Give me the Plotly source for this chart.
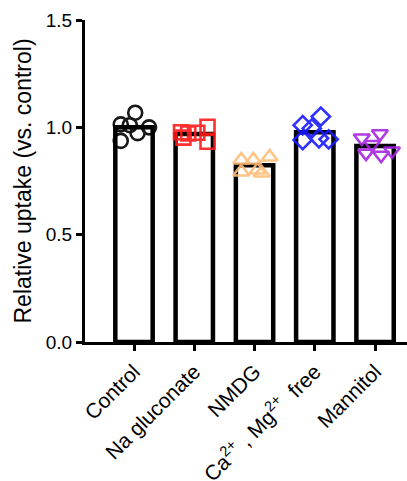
import plotly.graph_objects as go

categories = ["Control", "Na gluconate", "NMDG",
              "Ca<sup>2+</sup> , Mg<sup>2+</sup>  free", "Mannitol"]
bar_means = [1.00, 0.969, 0.823, 0.977, 0.913]
control = [1.068, 1.014, 1.010, 0.973, 1.000, 0.937]
na_gluconate = [0.977, 0.972, 0.975, 1.003, 0.933, 0.952]
nmdg = [0.848, 0.848, 0.862, 0.792, 0.801, 0.787]
ca_mg_free = [1.050, 1.010, 0.995, 0.941, 0.949, 0.944]
mannitol = [0.950, 0.970, 0.920, 0.880, 0.870, 0.890]
groups = [control, na_gluconate, nmdg, ca_mg_free, mannitol]
jitter = [[0.02, -0.22, -0.07, 0.06, 0.25, -0.22],
          [-0.22, -0.10, 0.05, 0.22, 0.22, -0.18],
          [-0.22, -0.02, 0.25, -0.22, 0.05, 0.12],
          [0.10, -0.20, -0.05, -0.20, 0.07, 0.23],
          [-0.22, 0.08, -0.05, -0.15, 0.10, 0.28]]
colors = ["#000000", "#FF1A1A", "#FFBE7A", "#1A1AFF", "#A626E0"]
symbols = ["circle-open", "square-open", "triangle-up-open",
           "diamond-open", "triangle-down-open"]

xs = list(range(len(categories)))
fig = go.Figure()
fig.add_trace(go.Bar(x=xs, y=bar_means, width=0.62,
                     marker=dict(color="white", line=dict(color="black", width=4.5)),
                     showlegend=False))
for i, vals in enumerate(groups):
    fig.add_trace(go.Scatter(
        x=[i + j for j in jitter[i]], y=vals, mode="markers",
        marker=dict(symbol=symbols[i], size=14, color=colors[i],
                    line=dict(width=2.6, color=colors[i])),
        opacity=0.9, showlegend=False))

font = dict(family="Liberation Sans, Arial, sans-serif", size=19, color="black")
fig.update_layout(
    width=407, height=481, margin=dict(l=85, r=0, t=20, b=139),
    plot_bgcolor="white", paper_bgcolor="white", font=font,
    xaxis=dict(range=[-0.813, 4.53], tickvals=xs, ticktext=categories,
               tickangle=-45, tickfont=dict(size=21), automargin=False,
               showline=True, linecolor="black", linewidth=3,
               ticks="outside", ticklen=6, tickwidth=2.5, tickcolor="black",
               showgrid=False, zeroline=False, fixedrange=True),
    yaxis=dict(range=[0, 1.5], tickvals=[0, 0.5, 1.0, 1.5],
               ticktext=["0.0", "0.5", "1.0", "1.5"], automargin=False,
               showline=True, linecolor="black", linewidth=3,
               ticks="outside", ticklen=6, tickwidth=2.5, tickcolor="black",
               showgrid=False, zeroline=False,
               title=dict(text="Relative uptake (vs. control)", standoff=8)),
)
fig.write_html("out.html")
